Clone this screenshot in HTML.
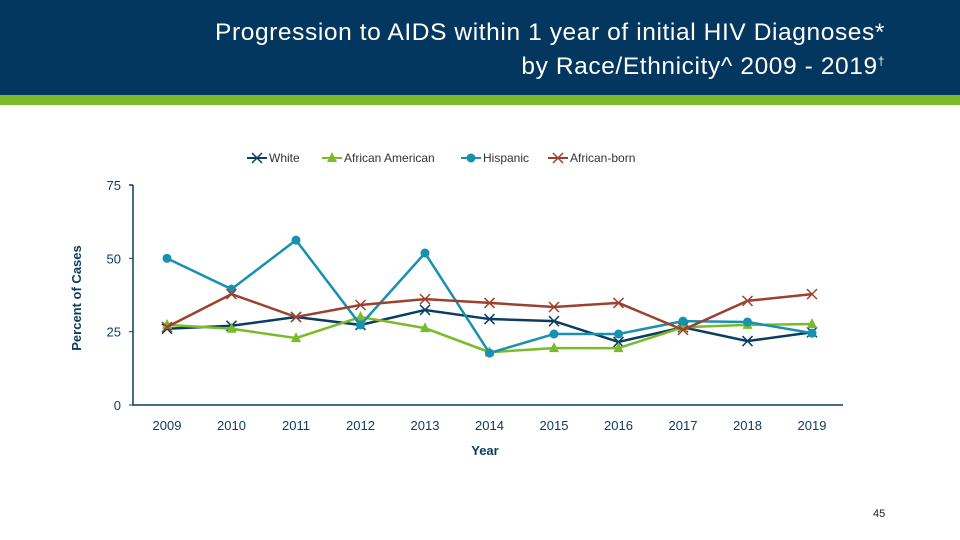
<!DOCTYPE html>
<html><head><meta charset="utf-8"><style>
body{margin:0;width:960px;height:540px;background:#fff;overflow:hidden;font-family:"Liberation Sans",sans-serif}
#hdr{position:absolute;left:0;top:0;width:960px;height:95px;background:#04375f}
#band{position:absolute;left:0;top:95px;width:960px;height:10px;background:#7bbb29}
#title{position:absolute;right:75px;top:18px;color:#fff;font-size:24.5px;line-height:29px;text-align:right;letter-spacing:0.6px}
#pg{position:absolute;left:873px;top:508px;font-size:11px;color:#222}
</style></head><body>
<div id="hdr"></div>
<div id="band"></div>
<div id="title">Progression to AIDS within 1 year of initial HIV Diagnoses*<br>by Race/Ethnicity^ 2009 - 2019<sup style="font-size:12px">†</sup></div>
<div id="pg">45</div>
<svg id="chart" width="960" height="540" style="position:absolute;left:0;top:0"></svg>
<script>
const years=[2009,2010,2011,2012,2013,2014,2015,2016,2017,2018,2019];
const yTicks=[0,25,50,75];
const white=[26,27,30,27.3,32.4,29.3,28.6,21.5,26.5,21.8,24.8];
const africanAmerican=[27.3,26,22.8,30,26.2,18,19.4,19.4,26.5,27.3,27.6];
const hispanic=[50,39.5,56.2,27.3,51.8,17.7,24.2,24.2,28.6,28.3,24.5];
const africanBorn=[26.6,37.8,30,34.1,36.1,34.8,33.4,34.8,25.6,35.5,37.8];
const seriesNames=["White","African American","Hispanic","African-born"];
const ns="http://www.w3.org/2000/svg",svg=document.getElementById('chart');
const x=i=>167+i*64.5, y=v=>405-v*220/75;
function mk(t,a,p){const e=document.createElementNS(ns,t);for(const k in a)e.setAttribute(k,a[k]);(p||svg).appendChild(e);return e;}
let ax=mk('path',{d:'M133 185 H129 M133 185 V405 H843',stroke:'#0b3d62','stroke-width':1.5,fill:'none'});


yTicks.forEach(t=>{let tt=mk('text',{x:121,y:y(t)+5,'text-anchor':'end','font-size':13,fill:'#0b3d62'});tt.textContent=t;


mk('line',{x1:129,x2:133,y1:y(t),y2:y(t),stroke:'#0b3d62'});});
years.forEach((yr,i)=>{let tt=mk('text',{x:x(i),y:430,'text-anchor':'middle','font-size':13,fill:'#0b3d62'});tt.textContent=yr;

});
let xt=mk('text',{x:485,y:455,'text-anchor':'middle','font-size':13,'font-weight':'bold',fill:'#0b3d62'});xt.textContent='Year';


let yt=mk('text',{x:0,y:0,'text-anchor':'middle','font-size':13,'font-weight':'bold',fill:'#0b3d62',transform:'translate(81,298) rotate(-90)'});yt.textContent='Percent of Cases';


const sets=[[white,'#0b3d62','x'],[africanAmerican,'#7bbb29','tri'],[hispanic,'#1891b0','dot'],[africanBorn,'#9c4130','x']];
function marker(g,m,cx,cy,c){
 if(m==='x'){mk('path',{d:`M${cx-5} ${cy-5}L${cx+5} ${cy+5}M${cx+5} ${cy-5}L${cx-5} ${cy+5}`,stroke:c,'stroke-width':1.5},g);}
 else if(m==='tri'){mk('polygon',{points:`${cx},${cy-6} ${cx-5},${cy+4} ${cx+5},${cy+4}`,fill:c},g);}
 else mk('circle',{cx,cy,r:4.5,fill:c},g);}
sets.forEach((s,k)=>{const g=mk('g',{});
 
 
 mk('polyline',{points:s[0].map((v,i)=>x(i)+','+y(v)).join(' '),fill:'none',stroke:s[1],'stroke-width':2.5},g);
 s[0].forEach((v,i)=>marker(g,s[2],x(i),y(v),s[1]));});
const lx=[247,322,461,548];
sets.forEach((s,k)=>{const g=mk('g',{});
 
 
 mk('line',{x1:lx[k],x2:lx[k]+20,y1:158,y2:158,stroke:s[1],'stroke-width':2},g);
 marker(g,s[2],lx[k]+10,158,s[1]);
 const t=mk('text',{x:lx[k]+22,y:162,'font-size':12,fill:'#333'},g);t.textContent=seriesNames[k];});
</script>
</body></html>
